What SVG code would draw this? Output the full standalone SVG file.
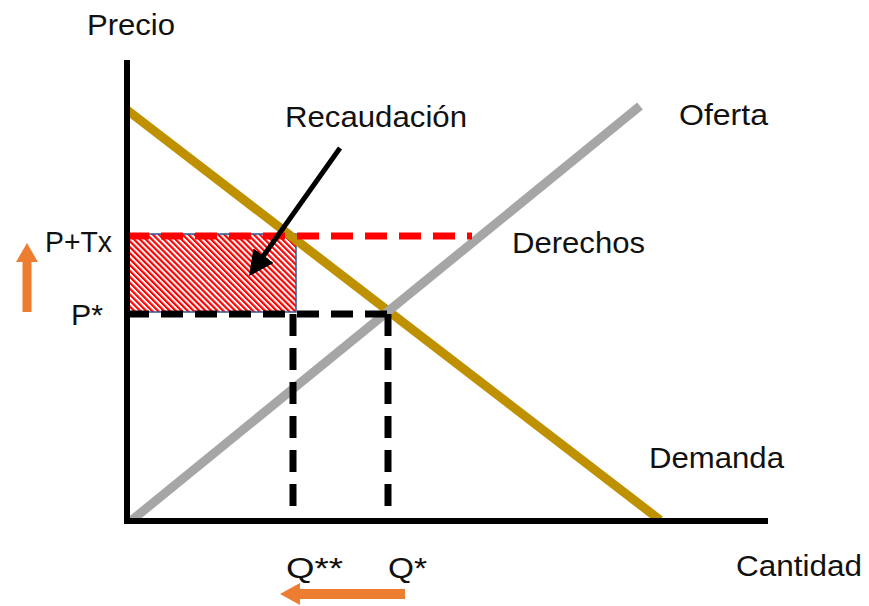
<svg xmlns="http://www.w3.org/2000/svg" width="869" height="606" viewBox="0 0 869 606">
<style>
text{font-family:"Liberation Sans","Open Sans",Arial,sans-serif;font-size:30px;fill:#111}
.axis{stroke:#000;stroke-width:6;fill:none}
.dash{stroke-width:7;stroke-dasharray:22 12;fill:none}
.orange{fill:#ED7D31}
</style>
<defs>
<pattern id="hatch" width="4.2" height="4.2" patternUnits="userSpaceOnUse" patternTransform="rotate(-45)">
<rect width="4.2" height="4.2" fill="#fff"/>
<rect width="2.2" height="4.2" fill="#FF0000"/>
</pattern>
<marker id="ah" markerWidth="5" markerHeight="5" refX="4" refY="2.5" orient="auto" markerUnits="strokeWidth">
<path d="M0,0 L5,2.5 L0,5 Z" fill="#000"/>
</marker>
</defs>
<g id="recaudacion-area">
<rect x="125" y="234" width="171" height="78" fill="url(#hatch)" stroke="#2F5597" stroke-width="1.5"/>
</g>
<g id="curves">
<line id="demanda-line" x1="127" y1="110" x2="660" y2="520" stroke="#BF9000" stroke-width="9"/>
<line id="oferta-line" x1="132" y1="520" x2="640" y2="106" stroke="#A6A6A6" stroke-width="9"/>
</g>
<g id="connectors">
<line class="dash" x1="127" y1="236" x2="472" y2="236" stroke="#FF0000"/>
<line class="dash" x1="127" y1="314" x2="392" y2="314" stroke="#000"/>
<line class="dash" x1="293" y1="314" x2="293" y2="521" stroke="#000"/>
<line class="dash" x1="388" y1="314" x2="388" y2="521" stroke="#000"/>
<line x1="340" y1="148" x2="252" y2="272" stroke="#000" stroke-width="5" marker-end="url(#ah)"/>
</g>
<g id="axes">
<line class="axis" x1="127" y1="60" x2="127" y2="524"/>
<line class="axis" x1="124" y1="521" x2="768" y2="521"/>
</g>
<g id="arrows">
<path class="orange" d="M22.5,312 L31.5,312 L31.5,262 L38,262 L27,243 L16,262 L22.5,262 Z"/>
<path class="orange" d="M405,589 L405,599 L300,599 L300,605 L280,594 L300,583 L300,589 Z"/>
</g>
<g id="labels">
<text x="87" y="35" textLength="88" lengthAdjust="spacingAndGlyphs">Precio</text>
<text x="285" y="127" textLength="182" lengthAdjust="spacingAndGlyphs">Recaudación</text>
<text x="679" y="125" textLength="89" lengthAdjust="spacingAndGlyphs">Oferta</text>
<text x="512" y="253" textLength="133" lengthAdjust="spacingAndGlyphs">Derechos</text>
<text x="45" y="252" textLength="67" lengthAdjust="spacingAndGlyphs">P+Tx</text>
<text x="71" y="325" textLength="32" lengthAdjust="spacingAndGlyphs">P*</text>
<text x="649" y="468" textLength="135" lengthAdjust="spacingAndGlyphs">Demanda</text>
<text x="286" y="578" textLength="57" lengthAdjust="spacingAndGlyphs">Q**</text>
<text x="388" y="578" textLength="39" lengthAdjust="spacingAndGlyphs">Q*</text>
<text x="736" y="576" textLength="126" lengthAdjust="spacingAndGlyphs">Cantidad</text>
</g>
</svg>
